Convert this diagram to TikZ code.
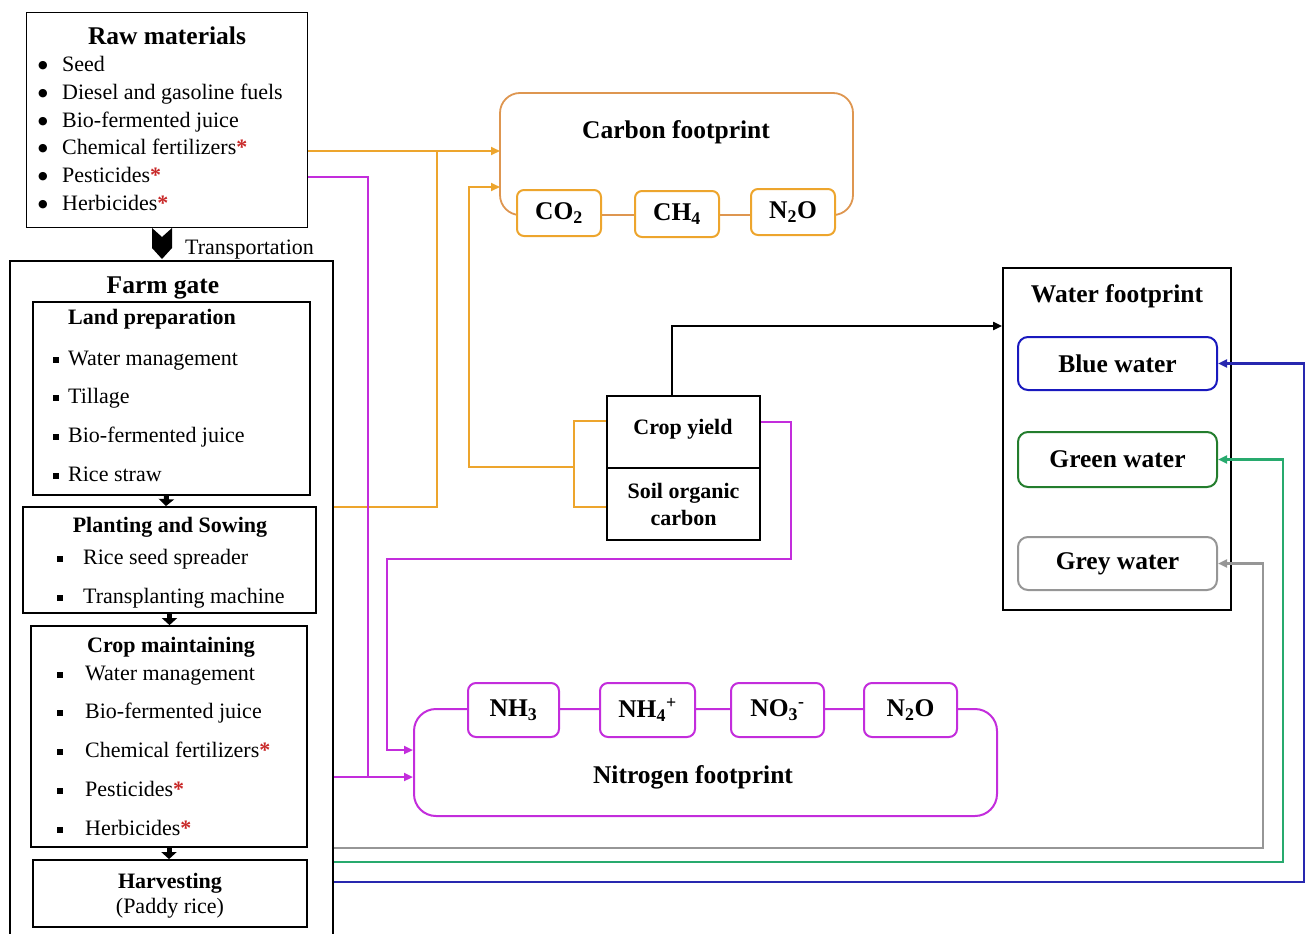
\documentclass[tikz,border=0pt]{standalone}
\usepackage{fontspec}
\setmainfont{Liberation Serif}
\newfontfamily\djv{DejaVu Sans}
\usetikzlibrary{arrows.meta,calc}
\definecolor{orC}{RGB}{237,165,45}
\definecolor{orB}{RGB}{222,150,80}
\definecolor{puC}{RGB}{195,45,220}
\definecolor{blC}{RGB}{25,25,190}
\definecolor{blL}{RGB}{40,40,175}
\definecolor{grC}{RGB}{35,125,45}
\definecolor{grL}{RGB}{40,170,110}
\definecolor{gyC}{RGB}{150,150,150}
\definecolor{astred}{RGB}{200,40,40}
\newcommand{\redstar}{\textcolor{astred}{\textbf{*}}}
\newcommand{\sqbul}{\rule[2.5pt]{6pt}{6pt}}
\newcommand{\rndbul}{\raisebox{3pt}{\djv\fontsize{11}{11}\selectfont ●}}
\tikzset{
  bx/.style={draw, line width=1.8pt, inner sep=0pt},
  itm/.style={inner sep=0pt, anchor=west, font=\fontsize{22}{26}\selectfont, text height=18pt, text depth=2pt},
  ttl/.style={inner sep=0pt, font=\fontsize{25.5}{30}\selectfont\bfseries, text height=20pt, text depth=4pt},
  sttl/.style={inner sep=0pt, font=\fontsize{22}{26}\selectfont\bfseries, text height=18pt, text depth=4pt},
  gas/.style={draw=orC, fill=white, line width=2pt, rounded corners=7pt, inner sep=0pt, minimum width=84pt, minimum height=46pt, font=\fontsize{25.5}{30}\selectfont\bfseries},
  ngas/.style={draw=puC, fill=white, line width=2pt, rounded corners=8pt, inner sep=0pt, minimum height=54pt, font=\fontsize{25.5}{30}\selectfont\bfseries},
  wat/.style={fill=white, line width=2pt, rounded corners=10pt, inner sep=0pt, minimum width=199pt, font=\fontsize{25.5}{30}\selectfont\bfseries},
  tip/.style={-{Triangle[length=9pt,width=8pt]}},
  orline/.style={draw=orC, line width=2.2pt},
  puline/.style={draw=puC, line width=2.2pt},
  blkarr/.style={line width=5pt, -{Triangle[length=7pt,width=15pt]}},
}
\begin{document}
\begin{tikzpicture}[x=1pt,y=-1pt]
\useasboundingbox (0,0) rectangle (1307,934);
\clip (0,0) rectangle (1307,934);

% Raw materials
\node[bx, minimum width=281pt, minimum height=215pt] (raw) at (167,120) {};
\node[ttl] (rawT) at (167,37) {Raw materials};
\foreach \itx [count=\i] in {Seed,Diesel and gasoline fuels,Bio-fermented juice,Chemical fertilizers\redstar,Pesticides\redstar,Herbicides\redstar}
  \node[itm] (raw-\i) at (38,{64+27.6*(\i-1)}) {\makebox[24pt][l]{\rndbul}\itx};

% Transportation
\fill (152,228) -- (162,237) -- (172,228) -- (172,248) -- (162,259) -- (152,248) -- cycle;
\node[itm] (trans) at (185,246) {Transportation};

% Farm gate
\node[bx, minimum width=323pt, minimum height=680pt] (fg) at (171.5,601) {};
\node[ttl] (fgT) at (163,285) {Farm gate};

\node[bx, minimum width=277pt, minimum height=193pt] (lp) at (171.5,398.5) {};
\node[sttl] (lpT) at (152,317) {Land preparation};
\foreach \itx [count=\i] in {Water management,Tillage,Bio-fermented juice,Rice straw}
  \node[itm] (lp-\i) at (53,{357+38.7*(\i-1)}) {\makebox[15pt][l]{\sqbul}\itx};

\node[bx, minimum width=293pt, minimum height=106pt] (ps) at (169.5,560) {};
\node[sttl] (psT) at (170,525) {Planting and Sowing};
\foreach \itx [count=\i] in {Rice seed spreader,Transplanting machine}
  \node[itm] (ps-\i) at (57,{556+39*(\i-1)}) {\makebox[26pt][l]{\sqbul}\itx};

\node[bx, minimum width=276pt, minimum height=221pt] (cm) at (169,736.5) {};
\node[sttl] (cmT) at (171,645) {Crop maintaining};
\foreach \itx [count=\i] in {Water management,Bio-fermented juice,Chemical fertilizers\redstar,Pesticides\redstar,Herbicides\redstar}
  \node[itm] (cm-\i) at (57,{672+38.75*(\i-1)}) {\makebox[28pt][l]{\sqbul}\itx};

\node[bx, minimum width=274pt, minimum height=67pt, align=center, font=\fontsize{22}{25}\selectfont] (hv) at (170,893.5) {\rule{0pt}{20pt}\textbf{Harvesting}\\(Paddy rice)};

\draw[blkarr] ([xshift=-5pt]lp.south) -- ([xshift=-3.5pt]ps.north);
\draw[blkarr] (ps.south) -- (ps.south |- cm.north);
\draw[blkarr] (cm.south) -- (cm.south |- hv.north);

% Carbon footprint
\node[draw=orB, line width=1.8pt, rounded corners=20pt, minimum width=353pt, minimum height=122pt, inner sep=0pt] (cf) at (676.5,154) {};
\node[ttl] (cfT) at (676,131) {Carbon footprint};
\node[gas] (co2) at (559,213) {CO\textsubscript{2}};
\node[gas] (ch4) at (677,214) {CH\textsubscript{4}};
\node[gas] (n2oc) at (793,212) {N\textsubscript{2}O};

% Crop yield / SOC
\node[bx, minimum width=153pt, minimum height=72pt] (cy) at (683.5,432) {};
\node[sttl] (cyT) at (683,427) {Crop yield};
\node[bx, minimum width=153pt, minimum height=72pt, align=center, font=\fontsize{22}{27}\selectfont\bfseries] (sc) at (683.5,504) {Soil organic\\carbon};

% Nitrogen footprint
\node[draw=puC, line width=2pt, rounded corners=22pt, minimum width=583pt, minimum height=107pt, inner sep=0pt] (nf) at (705.5,762.5) {};
\node[ttl] (nfT) at (693,775) {Nitrogen footprint};
\node[ngas, minimum width=91pt] (nh3) at (513.5,710) {NH\textsubscript{3}};
\node[ngas, minimum width=95pt] (nh4) at (647.5,710) {NH\textsubscript{4}\textsuperscript{+}};
\node[ngas, minimum width=93pt] (no3) at (777.5,710) {NO\textsubscript{3}\textsuperscript{-}};
\node[ngas, minimum width=93pt] (n2on) at (910.5,710) {N\textsubscript{2}O};

% Water footprint
\node[bx, minimum width=228pt, minimum height=342pt] (wf) at (1117,439) {};
\node[ttl] (wfT) at (1117,294) {Water footprint};
\node[wat, draw=blC, minimum height=53pt] (bw) at (1117.5,363.5) {Blue water};
\node[wat, draw=grC, minimum height=55pt] (gw) at (1117.5,459.5) {Green water};
\node[wat, draw=gyC, minimum height=53pt] (yw) at (1117.5,563.5) {Grey water};

% Orange connectors
\coordinate (cfin1) at (500,151);
\coordinate (cfin2) at (500,187);
\coordinate (o1) at (437,507);
\coordinate (b1) at (574,421);
\coordinate (b2) at (574,507);
\coordinate (b3) at (574,467);
\coordinate (o2) at (469,467);
\draw[orline, tip] (raw.east |- cfin1) -- (cfin1);
\draw[orline] (fg.east |- o1) -- (o1) -- (o1 |- cfin1);
\draw[orline] (cy.west |- b1) -- (b1) -- (b2) -- (sc.west |- b2);
\draw[orline, tip] (b3) -- (o2) -- (o2 |- cfin2) -- (cfin2);

% Black connector
\coordinate (k1) at (672,326);
\draw[line width=2pt, tip] (cy.north -| k1) -- (k1) -- (wf.west |- k1);

% Purple connectors
\coordinate (p1) at (791,422);
\coordinate (p2) at (791,559);
\coordinate (p3) at (387,559);
\coordinate (p4) at (387,750);
\draw[puline, tip] (cy.east |- p1) -- (p1) -- (p2) -- (p3) -- (p4) -- (nf.west |- p4);
\coordinate (p5) at (368,177);
\coordinate (p6) at (368,777);
\draw[puline] (raw.east |- p5) -- (p5) -- (p6);
\draw[puline, tip] (fg.east |- p6) -- (nf.west |- p6);

% Water connectors
\coordinate (g1) at (1263,848);
\coordinate (g2) at (1283,862);
\coordinate (g3) at (1304,882);
\draw[draw=gyC, line width=2.2pt, tip] (fg.east |- g1) -- (g1) -- (g1 |- yw.east) -- (yw.east);
\draw[draw=grL, line width=2.2pt, tip] (fg.east |- g2) -- (g2) -- (g2 |- gw.east) -- (gw.east);
\draw[draw=blL, line width=2.2pt, tip] (fg.east |- g3) -- (g3) -- (g3 |- bw.east) -- (bw.east);
\end{tikzpicture}
\end{document}
